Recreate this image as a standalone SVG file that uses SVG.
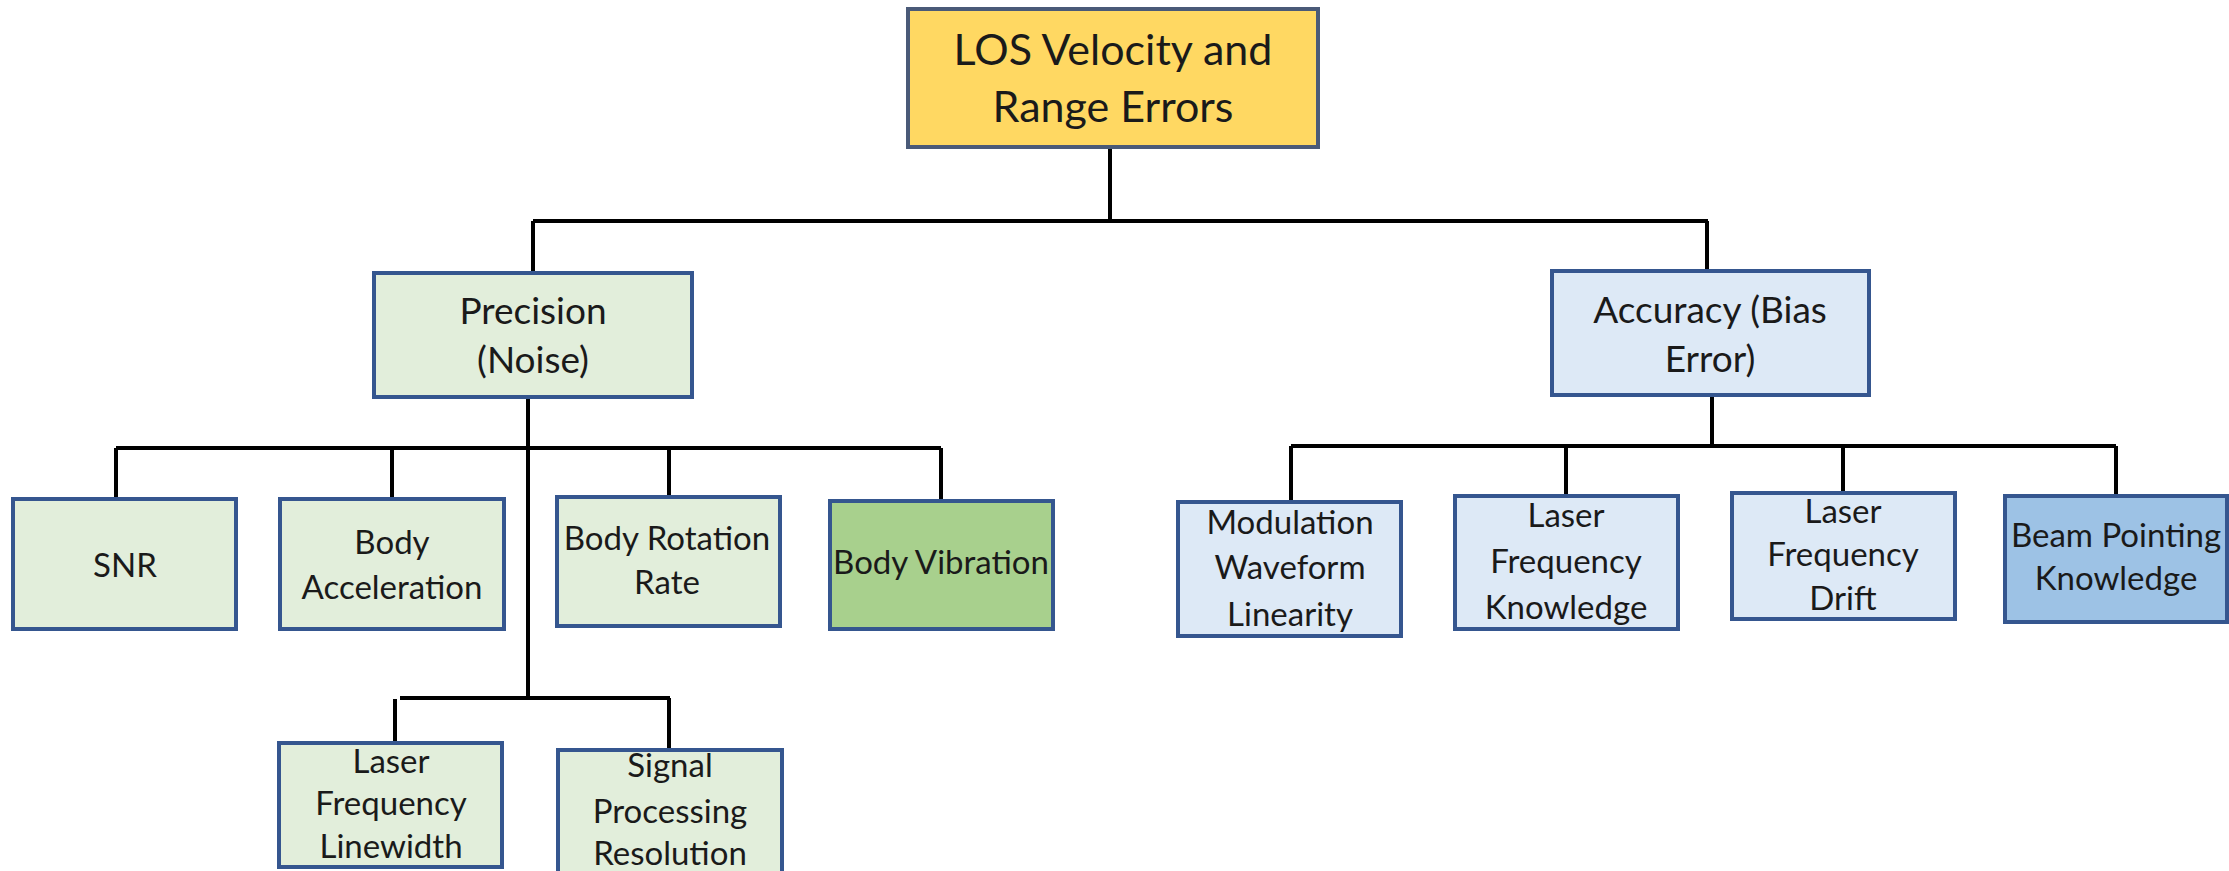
<svg xmlns="http://www.w3.org/2000/svg" width="2229" height="871" viewBox="0 0 2229 871">
<style>
  .box{stroke:#35568f;stroke-width:4}
  .top{fill:#ffd862;stroke:#4a5a78;stroke-width:4}
  .g1{fill:#e2eedb}
  .g2{fill:#a8d08d}
  .b1{fill:#dde9f6}
  .b2{fill:#9dc2e5}
  text{font-family:Lato,"Open Sans","Liberation Sans",sans-serif;fill:#1a1a1a;text-anchor:middle}
  .t0{font-size:43px}
  .t1{font-size:37px}
  .t2{font-size:33px}
  .c{stroke:#000;stroke-width:4;fill:none}
</style>
<rect width="2229" height="871" fill="#fff"/>
<g id="connectors">
  <path class="c" d="M1110 147V221M533 221H1708M533 221V273M1707 221V271"/>
  <path class="c" d="M528 397V698M116 448H941M116 448V499M392 448V499M669 448V497M941 448V501"/>
  <path class="c" d="M1712 395V446M1291 446H2116M1291 446V502M1566 446V496M1843 446V493M2116 446V496"/>
  <path class="c" d="M400 698H670M395 699V743M669 698V750"/>
</g>
<g id="n-top"><rect class="top" x="908" y="9" width="410" height="138"/>
  <text class="t0" x="1113" y="65">LOS Velocity and</text><text class="t0" x="1113" y="122">Range Errors</text></g>
<g id="n-precision"><rect class="box g1" x="374" y="273" width="318" height="124"/>
  <text class="t1" x="533" y="324">Precision</text><text class="t1" x="533" y="373">(Noise)</text></g>
<g id="n-accuracy"><rect class="box b1" x="1552" y="271" width="317" height="124"/>
  <text class="t1" x="1710" y="323">Accuracy (Bias</text><text class="t1" x="1710" y="372">Error)</text></g>
<g id="n-snr"><rect class="box g1" x="13" y="499" width="223" height="130"/>
  <text class="t2" x="125" y="577">SNR</text></g>
<g id="n-bodyacc"><rect class="box g1" x="280" y="499" width="224" height="130"/>
  <text class="t2" x="392" y="554">Body</text><text class="t2" x="392" y="599">Acceleration</text></g>
<g id="n-bodyrot"><rect class="box g1" x="557" y="497" width="223" height="129"/>
  <text class="t2" x="667" y="550">Body Rotation</text><text class="t2" x="667" y="594">Rate</text></g>
<g id="n-bodyvib"><rect class="box g2" x="830" y="501" width="223" height="128"/>
  <text class="t2" x="941" y="574">Body Vibration</text></g>
<g id="n-laserlw"><rect class="box g1" x="279" y="743" width="223" height="124"/>
  <text class="t2" x="391" y="773">Laser</text><text class="t2" x="391" y="815">Frequency</text><text class="t2" x="391" y="858">Linewidth</text></g>
<g id="n-sigproc"><rect class="box g1" x="558" y="750" width="224" height="130"/>
  <text class="t2" x="670" y="777">Signal</text><text class="t2" x="670" y="823">Processing</text><text class="t2" x="670" y="865">Resolution</text></g>
<g id="n-modwave"><rect class="box b1" x="1178" y="502" width="223" height="134"/>
  <text class="t2" x="1290" y="534">Modulation</text><text class="t2" x="1290" y="579">Waveform</text><text class="t2" x="1290" y="626">Linearity</text></g>
<g id="n-lfk"><rect class="box b1" x="1455" y="496" width="223" height="133"/>
  <text class="t2" x="1566" y="527">Laser</text><text class="t2" x="1566" y="573">Frequency</text><text class="t2" x="1566" y="619">Knowledge</text></g>
<g id="n-lfd"><rect class="box b1" x="1732" y="493" width="223" height="126"/>
  <text class="t2" x="1843" y="523">Laser</text><text class="t2" x="1843" y="566">Frequency</text><text class="t2" x="1843" y="610">Drift</text></g>
<g id="n-beam"><rect class="box b2" x="2005" y="496" width="222" height="126"/>
  <text class="t2" x="2116" y="547">Beam Pointing</text><text class="t2" x="2116" y="590">Knowledge</text></g>
</svg>
